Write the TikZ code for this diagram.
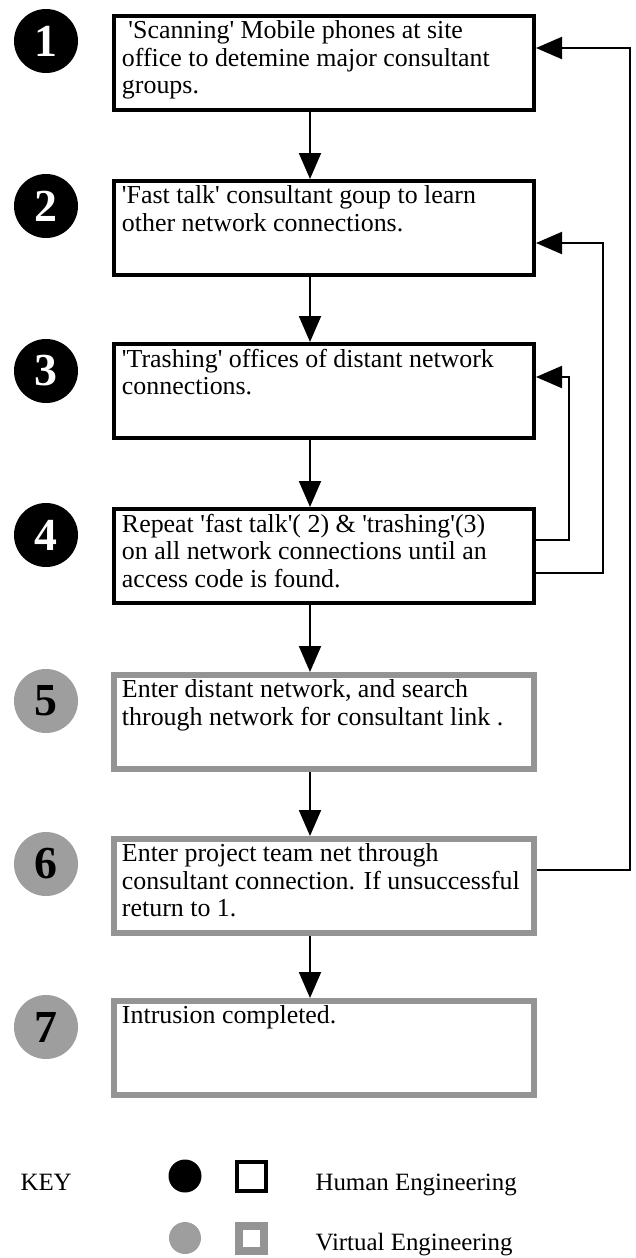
\documentclass[tikz,border=0pt]{standalone}
\usepackage{fontspec}
\setmainfont{Liberation Serif}[Ligatures=TeXOff]
\usetikzlibrary{arrows.meta}
\tikzset{>={Triangle[length=26bp,width=22bp]}}
\tikzset{
  humanbox/.style={draw, line width=4bp, inner xsep=8bp, inner ysep=5bp,
    font=\fontsize{26}{27.5}\selectfont},
  virtualbox/.style={humanbox, draw=black!42, line width=6bp},
  humandot/.style={circle, fill=black, text=white, minimum size=64bp, inner sep=0pt,
    font=\fontsize{46}{46}\selectfont\bfseries},
  virtualdot/.style={humandot, fill=black!38, text=black},
  flow/.style={line width=2bp, ->},
  keytext/.style={anchor=base west, font=\fontsize{25}{28}\selectfont}
}
\newcommand{\steptext}[1]{\parbox[t][84bp][t]{404bp}{\raggedright #1}}

\begin{document}
\begin{tikzpicture}[x=1bp, y=-1bp]
      \useasboundingbox (0,0) rectangle (636,1258);
      % steps
      \node[humanbox] (b1) at (324,63) {\steptext{\ 'Scanning' Mobile phones at site\\office to detemine major consultant\\groups.}};
      \node[humanbox] (b2) at (324,228) {\steptext{'Fast talk' consultant goup to learn\\other network connections.}};
      \node[humanbox] (b3) at (324,391) {\steptext{'Trashing' offices of distant network\\connections.}};
      \node[humanbox] (b4) at (324,556) {\steptext{Repeat 'fast talk'( 2) \& 'trashing'(3)\\on all network connections until an\\access code is found.}};
      \node[virtualbox] (b5) at (324,722) {\steptext{Enter distant network, and search\\through network for consultant link .}};
      \node[virtualbox] (b6) at (324,886) {\steptext{Enter project team net through\\consultant connection. If unsuccessful\\return to 1.}};
      \node[virtualbox] (b7) at (324,1048) {\steptext{Intrusion completed.}};
      % numbers
      \node[humandot] (c1) at (46,41) {1};
      \node[humandot] (c2) at (46,206) {2};
      \node[humandot] (c3) at (46,371) {3};
      \node[humandot] (c4) at (46,535) {4};
      \node[virtualdot] (c5) at (46,701) {5};
      \node[virtualdot] (c6) at (46,864) {6};
      \node[virtualdot] (c7) at (46,1027) {7};
      % flow down
      \draw[flow] ([xshift=-14bp]b1.south) -- ([xshift=-14bp]b2.north);
      \draw[flow] ([xshift=-14bp]b2.south) -- ([xshift=-14bp]b3.north);
      \draw[flow] ([xshift=-14bp]b3.south) -- ([xshift=-14bp]b4.north);
      \draw[flow] ([xshift=-14bp]b4.south) -- ([xshift=-14bp]b5.north);
      \draw[flow] ([xshift=-14bp]b5.south) -- ([xshift=-14bp]b6.north);
      \draw[flow] ([xshift=-14bp]b6.south) -- ([xshift=-14bp]b7.north);
      % loops back
      \draw[flow] ([yshift=16bp]b4.east) -- ++(33,0) |- ([yshift=14bp]b3.east);
      \draw[flow] ([yshift=-17bp]b4.east) -- ++(67,0) |- ([yshift=-15bp]b2.east);
      \draw[flow] ([yshift=16bp]b6.east) -- ++(93,0) |- ([yshift=15bp]b1.east);
      % key
      \node[keytext] (key) at (17,1190) {KEY};
      \node[circle, fill=black, minimum size=33bp, inner sep=0pt] (hdot) at (185,1176) {};
      \node[draw, line width=4bp, minimum size=29bp, inner sep=0pt] (hsq) at (251,1176) {};
      \node[keytext] (hlab) at (312,1190) {Human Engineering};
      \node[circle, fill=black!38, minimum size=32bp, inner sep=0pt] (vdot) at (185,1238) {};
      \node[draw=black!42, line width=8bp, minimum size=25bp, inner sep=0pt] (vsq) at (251,1238) {};
      \node[keytext] (vlab) at (312,1250) {Virtual Engineering};
\end{tikzpicture}
\end{document}
